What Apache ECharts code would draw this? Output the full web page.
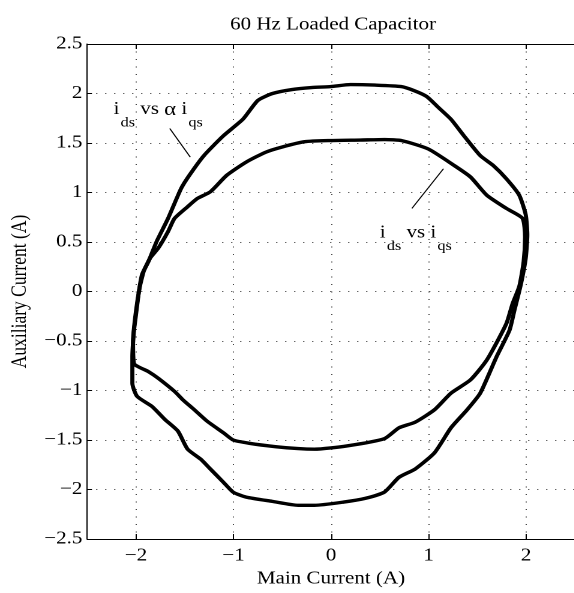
<!DOCTYPE html>
<html>
<head>
<meta charset="utf-8">
<script src="https://cdn.jsdelivr.net/npm/echarts@6/dist/echarts.min.js"></script>
<style>
html,body{margin:0;padding:0;background:#fff;overflow:hidden;width:574px;height:593px;}
#chart{width:479px;height:593px;transform:scaleX(1.2);transform-origin:0 0;}
</style>
</head>
<body>
<div id="chart"></div>
<script>
// ---- data ----
// outer loop: i_ds vs alpha*i_qs
const loopAx = [-1.97,-1.937,-1.87,-1.787,-1.67,-1.537,-1.453,-1.303,-1.103,-0.903,-0.75,-0.6,-0.4,-0.2,0,0.2,0.45,0.72,0.85,0.98,1.1,1.23,1.363,1.53,1.663,1.797,1.93,1.997,2.013,1.997,1.947,1.88,1.83,1.697,1.53,1.397,1.23,1.063,0.863,0.697,0.547,0.35,0.13,-0.17,-0.337,-0.603,-0.87,-1.003,-1.103,-1.237,-1.337,-1.47,-1.57,-1.703,-1.837,-1.987,-2.037,-2.037,-2.02,-2.003,-1.97];
const loopAy = [0.0,0.173,0.307,0.507,0.74,1.04,1.173,1.373,1.573,1.74,1.93,2.0,2.04,2.06,2.07,2.09,2.085,2.07,2.03,1.97,1.86,1.74,1.573,1.373,1.273,1.14,0.973,0.773,0.573,0.34,0.073,-0.193,-0.393,-0.66,-1.027,-1.193,-1.377,-1.627,-1.793,-1.877,-2.027,-2.09,-2.127,-2.16,-2.16,-2.12,-2.077,-2.027,-1.927,-1.793,-1.693,-1.593,-1.41,-1.293,-1.16,-1.06,-0.927,-0.66,-0.393,-0.26,0.0];
// inner loop: i_ds vs i_qs
const loopBx = [-1.92,-1.853,-1.77,-1.67,-1.603,-1.47,-1.37,-1.237,-1.07,-0.87,-0.67,-0.5,-0.27,0,0.3,0.55,0.73,0.997,1.263,1.43,1.597,1.797,1.963,1.99,1.975,1.93,1.863,1.797,1.597,1.43,1.23,1.063,0.863,0.697,0.547,0.163,-0.17,-0.337,-0.57,-0.837,-1.003,-1.103,-1.27,-1.403,-1.52,-1.603,-1.77,-1.87,-2.02,-2.03,-2.0,-1.96,-1.92];
const loopBy = [0.207,0.34,0.44,0.607,0.74,0.857,0.94,1.007,1.173,1.307,1.407,1.46,1.513,1.525,1.53,1.535,1.523,1.44,1.273,1.157,0.973,0.84,0.74,0.55,0.3,0.05,-0.12,-0.327,-0.693,-0.893,-1.027,-1.193,-1.32,-1.377,-1.487,-1.56,-1.593,-1.587,-1.567,-1.533,-1.5,-1.427,-1.31,-1.193,-1.093,-1.01,-0.877,-0.81,-0.727,-0.5,-0.2,0.05,0.207];

// annotations (data coordinates: baseline-left of text, leader line ends)
const note1Pos = [-2.23, 1.77];
const note1Line = [[-1.653, 1.647], [-1.443, 1.357]];
const note2Pos = [0.50, 0.523];
const note2Line = [[1.153, 1.24], [0.83, 0.84]];

const titleText = '60 Hz Loaded Capacitor';
const xName = 'Main Current (A)';
const yName = 'Auxiliary Current (A)';
const xRange = [-2.5, 2.5];
const yRange = [-2.5, 2.5];
const yStep = 0.5;

const FONT = '"Liberation Serif","Times New Roman",serif';
const FS = 17.5;
const zip = (xs, ys) => xs.map((x, i) => [x, ys[i]]);

const chart = echarts.init(document.getElementById('chart'), null, {renderer: 'canvas', devicePixelRatio: 2});

const gridLine = {show: true, lineStyle: {color: '#444', type: [1, 6.5], width: 1}};
const labelStyle = {color: '#000', fontFamily: FONT, fontSize: FS};
const minus = v => (v < 0 ? '\u2212' + Math.abs(v) : String(v));

const GL = 64.17, GW = 416.67;
chart.setOption({
  animation: false,
  backgroundColor: '#fff',
  title: {
    text: titleText, left: GL + GW / 2, top: 11, textAlign: 'center',
    textStyle: {fontFamily: FONT, fontSize: FS, fontWeight: 'normal', color: '#000'}
  },
  grid: {left: GL, top: 44, width: GW, height: 500, containLabel: false},
  xAxis: [{
    type: 'value', min: xRange[0], max: xRange[1], splitNumber: 5,
    name: xName, nameLocation: 'middle', nameGap: 31,
    nameTextStyle: {fontFamily: FONT, fontSize: FS, color: '#000'},
    axisLine: {show: true, onZero: false, lineStyle: {color: '#000', width: 1}},
    axisTick: {show: true, inside: true, length: 5, lineStyle: {color: '#000'}},
    axisLabel: Object.assign({margin: 8, showMinLabel: false, showMaxLabel: false, formatter: minus}, labelStyle),
    splitLine: gridLine
  }, {
    type: 'value', position: 'top', min: xRange[0], max: xRange[1], splitNumber: 5,
    axisLine: {show: true, onZero: false, lineStyle: {color: '#000', width: 1}},
    axisTick: {show: true, inside: true, length: 5, lineStyle: {color: '#000'}},
    axisLabel: {show: false}, splitLine: {show: false}
  }],
  yAxis: [{
    type: 'value', min: yRange[0], max: yRange[1], interval: yStep,
    name: yName, nameLocation: 'middle', nameGap: 37, nameRotate: 90,
    nameTextStyle: {fontFamily: FONT, fontSize: FS, color: '#000'},
    axisLine: {show: true, onZero: false, lineStyle: {color: '#000', width: 1}},
    axisTick: {show: true, inside: true, length: 4, lineStyle: {color: '#000'}},
    axisLabel: Object.assign({margin: 4, formatter: minus}, labelStyle),
    splitLine: gridLine
  }],
  series: [{
    type: 'line', name: 'ids vs alpha iqs', data: zip(loopAx, loopAy),
    showSymbol: false, symbol: 'none', smooth: 0.2,
    lineStyle: {color: '#000', width: 3.4}
  }, {
    type: 'line', name: 'ids vs iqs', data: zip(loopBx, loopBy),
    showSymbol: false, symbol: 'none', smooth: 0.2,
    lineStyle: {color: '#000', width: 3.4}
  }]
});

function px(p) { return chart.convertToPixel({xAxisIndex: 0, yAxisIndex: 0}, p); }
const rich = {
  m: {fontFamily: FONT, fontSize: FS, lineHeight: 20, verticalAlign: 'top', fill: '#000'},
  g: {fontFamily: FONT, fontSize: 19, lineHeight: 20, verticalAlign: 'top', fill: '#000'},
  s: {fontFamily: FONT, fontSize: 13.5, lineHeight: 14, padding: [15.5, 0, 0, 1], verticalAlign: 'top', fill: '#000'}
};
function note(pos, text) {
  const p = px(pos);
  return {type: 'text', x: p[0], y: p[1] - 16, silent: true,
    style: {text: text, rich: rich, fill: '#000', font: FS + 'px ' + FONT}};
}
function lead(seg) {
  const a = px(seg[0]), b = px(seg[1]);
  return {type: 'line', silent: true, shape: {x1: a[0], y1: a[1], x2: b[0], y2: b[1]},
    style: {stroke: '#000', lineWidth: 1}};
}
chart.setOption({graphic: [
  note(note1Pos, '{m|i}{s|ds}{m| vs }{g|\u03b1}{m| i}{s|qs}'),
  lead(note1Line),
  note(note2Pos, '{m|i}{s|ds}{m| vs i}{s|qs}'),
  lead(note2Line)
]});
</script>
</body>
</html>
